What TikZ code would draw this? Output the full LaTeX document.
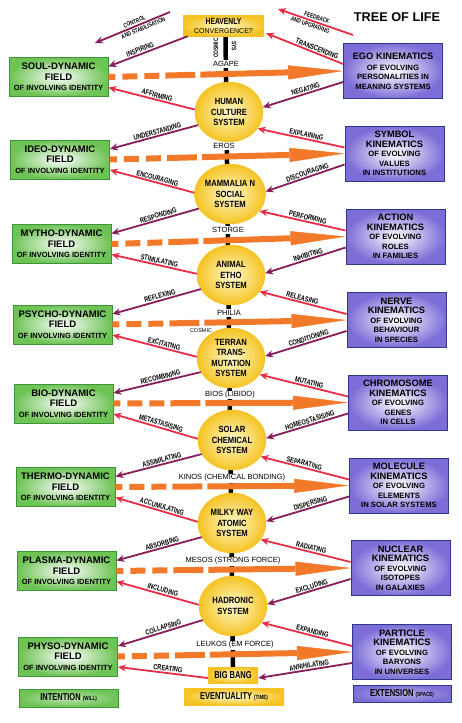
\documentclass[tikz,border=0pt]{standalone}
\usepackage{fontspec}
\setmainfont{Liberation Sans}
\newfontfamily\cnd[FakeStretch=0.75]{Liberation Sans}
\newfontfamily\cndb[FakeStretch=0.85]{Liberation Sans}
\usetikzlibrary{shapes.geometric,arrows.meta,backgrounds}
\definecolor{gframe}{RGB}{60,150,55}
\definecolor{gfill}{RGB}{110,195,85}
\definecolor{bframe}{RGB}{45,55,140}
\definecolor{bfill}{RGB}{125,110,215}
\definecolor{ylight}{RGB}{255,250,205}
\definecolor{ydark}{RGB}{245,195,35}
\definecolor{orng}{RGB}{242,120,42}
\definecolor{purp}{RGB}{135,30,90}
\definecolor{redc}{RGB}{230,45,70}
\newcommand\hbig[1]{{\fontsize{9.5}{11}\selectfont #1}}
\newcommand\rbig[1]{{\fontsize{9.3}{10}\selectfont #1}}
\newcommand\smalltag[1]{{\fontsize{6}{7}\selectfont #1}}
\begin{document}
\begin{tikzpicture}[x=1pt,y=-1pt,
 lbox/.style={draw=gframe, line width=0.8pt, shading=radial, inner color=white, outer color=gfill, minimum width=99pt, minimum height=39pt, align=center, inner sep=1pt, font=\fontsize{7.5}{10.5}\selectfont\bfseries},
 rbox/.style={draw=bframe, line width=0.9pt, shading=radial, inner color=white, outer color=bfill, minimum width=99pt, minimum height=55pt, align=center, inner sep=1pt, font=\fontsize{7.7}{9.5}\selectfont\bfseries},
 sysc/.style={ellipse, draw=ydark, line width=0.4pt, shading=radial, inner color=ylight, outer color=ydark, minimum width=68pt, minimum height=60pt, inner sep=0pt, align=center, font=\cndb\bfseries\fontsize{9}{10.5}\selectfont},
 ybox/.style={shading=radial, inner color=ylight, outer color=ydark, inner sep=1pt, align=center},
 clab/.style={fill=white, inner sep=1pt, font=\fontsize{7.5}{8}\selectfont},
 oarr/.style={draw=orng, line width=6pt, dash pattern=on 7pt off 7pt on 15pt off 7pt on 15pt off 6pt on 30pt off 5pt on 600pt, -{Triangle[length=55pt,width=14pt,line width=0.5pt]}},
 parr/.style={draw=purp, line width=1.8pt, -{Stealth[length=8pt,width=7pt]}},
 rarr/.style={draw=redc, line width=1.8pt, -{Stealth[length=8pt,width=7pt]}},
 alab/.style={sloped, above=0.4pt, inner sep=0.5pt, pos=0.45, font=\cnd\bfseries\fontsize{7.5}{8}\selectfont},
 tlab/.style={sloped, inner sep=0.3pt, font=\cnd\bfseries\fontsize{6.3}{7}\selectfont},
]
\useasboundingbox (0,0) rectangle (462,723);

% title
\node[font=\bfseries\fontsize{12.7}{14}\selectfont] (title) at (397,17) {TREE OF LIFE};

% top box
\node[ybox, minimum width=81pt, minimum height=21pt, font=\fontsize{7}{9}\selectfont] (heaven) at (223.5,25.5) {{\cnd\bfseries\fontsize{9}{9}\selectfont HEAVENLY}\\CONVERGENCE?};
\node[rotate=90, inner sep=0.5pt, font=\cnd\bfseries\fontsize{6.5}{7}\selectfont] (cosm) at (216,48) {COSMIC};
\node[rotate=-90, inner sep=0.5pt, font=\cnd\bfseries\fontsize{6.5}{7}\selectfont] (sys) at (234,46) {SYS};

% left boxes
\node[lbox] (soul) at (58.5,77) {\hbig{SOUL-DYNAMIC}\\\hbig{FIELD}\\OF INVOLVING IDENTITY};
\node[lbox] (ideo) at (60,159.5) {\hbig{IDEO-DYNAMIC}\\\hbig{FIELD}\\OF INVOLVING IDENTITY};
\node[lbox] (mytho) at (61.5,244) {\hbig{MYTHO-DYNAMIC}\\\hbig{FIELD}\\OF INVOLVING IDENTITY};
\node[lbox] (psycho) at (62.5,324.5) {\hbig{PSYCHO-DYNAMIC}\\\hbig{FIELD}\\OF INVOLVING IDENTITY};
\node[lbox] (bio) at (63.5,403.5) {\hbig{BIO-DYNAMIC}\\\hbig{FIELD}\\OF INVOLVING IDENTITY};
\node[lbox] (thermo) at (65.5,487) {\hbig{THERMO-DYNAMIC}\\\hbig{FIELD}\\OF INVOLVING IDENTITY};
\node[lbox] (plasma) at (66.5,571) {\hbig{PLASMA-DYNAMIC}\\\hbig{FIELD}\\OF INVOLVING IDENTITY};
\node[lbox] (physo) at (68,656.5) {\hbig{PHYSO-DYNAMIC}\\\hbig{FIELD}\\OF INVOLVING IDENTITY};

% right boxes
\node[rbox] (ego) at (393,71) {\rbig{EGO KINEMATICS}\\[1.5pt]OF EVOLVING\\PERSONALITIES IN\\MEANING SYSTEMS};
\node[rbox] (symbol) at (394.5,153.5) {\rbig{SYMBOL}\\\rbig{KINEMATICS}\\OF EVOLVING\\VALUES\\IN INSTITUTIONS};
\node[rbox] (action) at (395.5,236.5) {\rbig{ACTION}\\\rbig{KINEMATICS}\\OF EVOLVING\\ROLES\\IN FAMILIES};
\node[rbox] (nerve) at (396.5,320) {\rbig{NERVE}\\\rbig{KINEMATICS}\\OF EVOLVING\\BEHAVIOUR\\IN SPECIES};
\node[rbox] (chromo) at (398,402.5) {\rbig{CHROMOSOME}\\\rbig{KINEMATICS}\\OF EVOLVING\\GENES\\IN CELLS};
\node[rbox] (molecule) at (399,485.5) {\rbig{MOLECULE}\\\rbig{KINEMATICS}\\OF EVOLVING\\ELEMENTS\\IN SOLAR SYSTEMS};
\node[rbox] (nuclear) at (400.5,568) {\rbig{NUCLEAR}\\\rbig{KINEMATICS}\\OF EVOLVING\\ISOTOPES\\IN GALAXIES};
\node[rbox] (particle) at (402,652) {\rbig{PARTICLE}\\\rbig{KINEMATICS}\\OF EVOLVING\\BARYONS\\IN UNIVERSES};

% central systems
\node[sysc] (human) at (229,112) {HUMAN\\CULTURE\\SYSTEM};
\node[sysc] (mammal) at (230,194) {MAMMALIA N\\SOCIAL\\SYSTEM};
\node[sysc] (animal) at (231,275) {ANIMAL\\ETHO\\SYSTEM};
\node[sysc] (terran) at (231,358) {TERRAN\\TRANS-\\MUTATION\\SYSTEM};
\node[sysc] (solar) at (232,440) {SOLAR\\CHEMICAL\\SYSTEM};
\node[sysc] (milky) at (232,523) {MILKY WAY\\ATOMIC\\SYSTEM};
\node[sysc] (hadron) at (233,606) {HADRONIC\\SYSTEM};

\node[ybox, minimum width=50pt, minimum height=16pt, font=\cnd\bfseries\fontsize{10}{11}\selectfont] (bigbang) at (233,675) {BIG BANG};

% central labels
\node[clab] (agape) at (226,64) {AGAPE};
\node[clab] (eros) at (224,146) {EROS};
\node[clab] (storge) at (228,230) {STORGE};
\node[clab] (philia) at (229,313) {PHILIA};
\node[clab] (bios) at (230,395) {BIOS (LIBIDO)};
\node[clab] (kinos) at (232,478) {KINOS (CHEMICAL BONDING)};
\node[clab] (mesos) at (233,561) {MESOS (STRONG FORCE)};
\node[clab] (leukos) at (235,645) {LEUKOS (EM FORCE)};
\node[inner sep=0.5pt, font=\fontsize{5.5}{6}\selectfont] (cosmic) at (201,331) {COSMIC};

% bottom legend
\node[draw=gframe, line width=0.8pt, shading=radial, inner color=gfill!45!white, outer color=gfill, minimum width=99pt, minimum height=18pt, inner sep=1pt, font=\cnd\bfseries\fontsize{10}{11}\selectfont] (will) at (68.5,698) {INTENTION \smalltag{(WILL)}};
\node[ybox, minimum width=100pt, minimum height=17pt, font=\cnd\bfseries\fontsize{10}{11}\selectfont] (time) at (234,696.5) {EVENTUALITY \smalltag{(TIME)}};
\node[draw=bframe, line width=0.8pt, shading=radial, inner color=bfill!55!white, outer color=bfill, minimum width=98pt, minimum height=17pt, inner sep=1pt, font=\cnd\bfseries\fontsize{10}{11}\selectfont] (space) at (402,693.5) {EXTENSION \smalltag{(SPACE)}};

% background: white page and black axis
\begin{scope}[on background layer]
\fill[white] (0,0) rectangle (462,723);
\draw[line width=4.5pt, black] ([xshift=2pt]heaven.south) -- (bigbang.north);
\end{scope}

% orange arrows
\draw[oarr] (soul.east) -- (ego.west);
\draw[oarr] (ideo.east) -- (symbol.west);
\draw[oarr] (mytho.east) -- (action.west);
\draw[oarr] (psycho.east) -- (nerve.west);
\draw[oarr] (bio.east) -- (chromo.west);
\draw[oarr] (thermo.east) -- (molecule.west);
\draw[oarr] (plasma.east) -- (nuclear.west);
\draw[oarr] (physo.east) -- (particle.west);

% top free arrows
\coordinate (c1) at (170,12);
\coordinate (c2) at (95,43);
\coordinate (f1) at (353,35);
\coordinate (f2) at (278,9);
\draw[parr] (c1) -- (c2)
  node[tlab, above=1.2pt, pos=0.45] {CONTROL}
  node[tlab, below=1.2pt, pos=0.38] {AND STABILISATION};
\draw[rarr] (f1) -- (f2)
  node[tlab, above=1.2pt, pos=0.5] {FEEDBACK}
  node[tlab, below=1.2pt, pos=0.55] {AND UPGRADING};

% left side arrows
\draw[parr] ([xshift=5pt]heaven.south west) -- ([yshift=10.5pt]soul.east) node[alab, pos=0.58] {INSPIRING};
\draw[rarr] (human.176) -- ([yshift=-10.5pt]soul.east) node[alab] {AFFIRMING};
\draw[parr] (human.203) -- ([yshift=10.5pt]ideo.east) node[alab] {UNDERSTANDING};
\draw[rarr] (mammal.178) -- ([yshift=-10.5pt]ideo.east) node[alab] {ENCOURAGING};
\draw[parr] (mammal.205) -- ([yshift=10.5pt]mytho.east) node[alab] {RESPONDING};
\draw[rarr] (animal.178) -- ([yshift=-10.5pt]mytho.east) node[alab] {STIMULATING};
\draw[parr] (animal.205) -- ([yshift=10.5pt]psycho.east) node[alab] {REFLEXING};
\draw[rarr] (terran.178) -- ([yshift=-10.5pt]psycho.east) node[alab, pos=0.4] {EXCITATING};
\draw[parr] (terran.205) -- ([yshift=10.5pt]bio.east) node[alab] {RECOMBINING};
\draw[rarr] (solar.178) -- ([yshift=-10.5pt]bio.east) node[alab] {METASTASISING};
\draw[parr] (solar.205) -- ([yshift=10.5pt]thermo.east) node[alab] {ASSIMILATING};
\draw[rarr] (milky.178) -- ([yshift=-10.5pt]thermo.east) node[alab] {ACCUMULATING};
\draw[parr] (milky.205) -- ([yshift=10.5pt]plasma.east) node[alab] {ABSORBING};
\draw[rarr] (hadron.178) -- ([yshift=-10.5pt]plasma.east) node[alab] {INCLUDING};
\draw[parr] (hadron.205) -- ([yshift=10.5pt]physo.east) node[alab] {COLLAPSING};
\draw[rarr] ([yshift=-3pt]bigbang.west) -- ([yshift=-10.5pt]physo.east) node[alab] {CREATING};

% right side arrows
\draw[rarr] ([yshift=7pt]ego.west) -- ([xshift=2pt,yshift=3pt]heaven.south east) node[alab, pos=0.36] {TRANSCENDING};
\draw[parr] ([yshift=-11pt]ego.west) -- (human.8) node[alab] {NEGATING};
\draw[rarr] ([yshift=6pt]symbol.west) -- (human.330) node[alab] {EXPLAINING};
\draw[parr] ([yshift=-11pt]symbol.west) -- (mammal.4) node[alab] {DISCOURAGING};
\draw[rarr] ([yshift=6pt]action.west) -- (mammal.330) node[alab] {PERFORMING};
\draw[parr] ([yshift=-11pt]action.west) -- (animal.3) node[alab] {INHIBITING};
\draw[rarr] ([yshift=6pt]nerve.west) -- (animal.330) node[alab, pos=0.52] {RELEASING};
\draw[parr] ([yshift=-11pt]nerve.west) -- (terran.3) node[alab] {CONDITIONING};
\draw[rarr] ([yshift=6pt]chromo.west) -- (terran.330) node[alab] {MUTATING};
\draw[parr] ([yshift=-11pt]chromo.west) -- (solar.3) node[alab] {HOMEOSTASISING};
\draw[rarr] ([yshift=6pt]molecule.west) -- (solar.330) node[alab, pos=0.52] {SEPARATING};
\draw[parr] ([yshift=-11pt]molecule.west) -- (milky.3) node[alab] {DISPERSING};
\draw[rarr] ([yshift=6pt]nuclear.west) -- (milky.330) node[alab] {RADIATING};
\draw[parr] ([yshift=-11pt]nuclear.west) -- (hadron.3) node[alab] {EXCLUDING};
\draw[rarr] ([yshift=6pt]particle.west) -- (hadron.330) node[alab] {EXPANDING};
\draw[parr] ([yshift=-11pt]particle.west) -- ([yshift=-3pt]bigbang.east) node[alab] {ANNIHILATING};
\end{tikzpicture}
\end{document}
